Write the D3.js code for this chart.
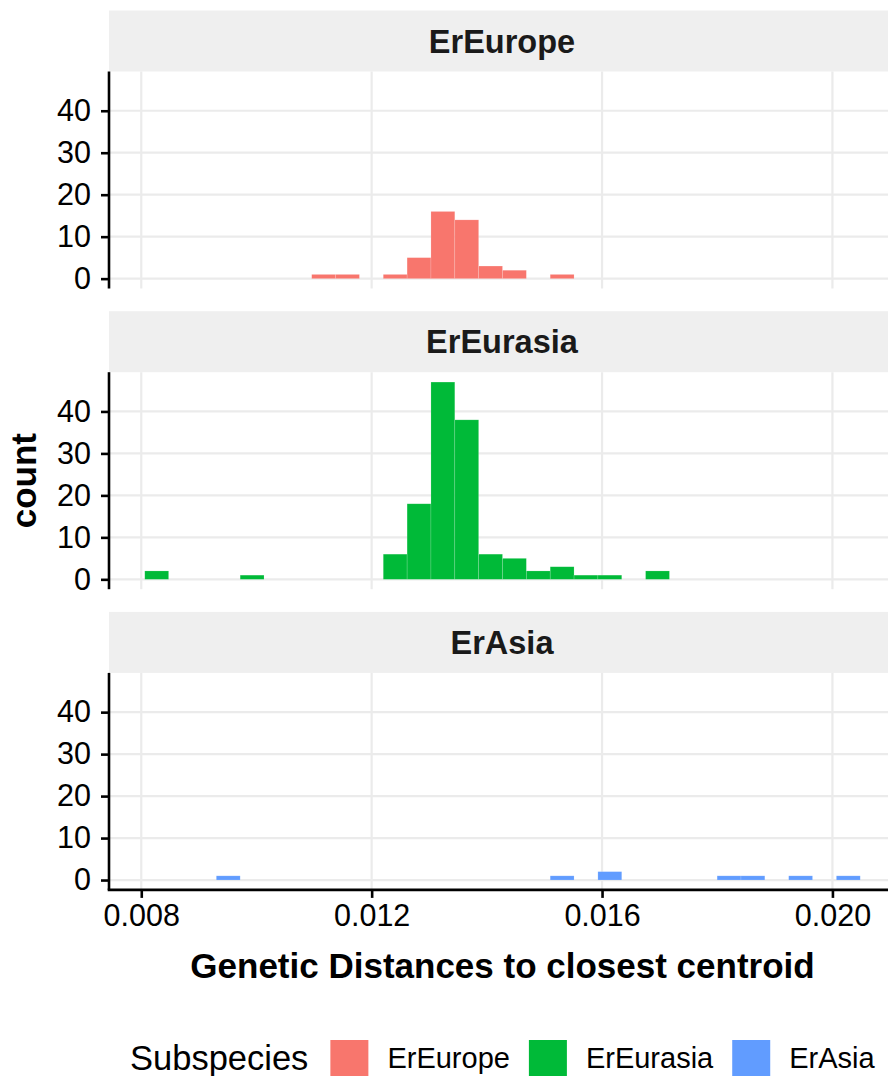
<!DOCTYPE html>
<html lang="en">
<head>
<meta charset="UTF-8">
<title>Genetic distances histogram</title>
<script src="https://d3js.org/d3.v7.min.js"></script>
<style>
  body { margin: 0; background: #fff; }
  svg { display: block; font-family: "Liberation Sans", Arial, sans-serif; }
</style>
</head>
<body>
<svg width="888" height="1076"></svg>
<script>
// histogram data: 30 bins, counts per subspecies
const subspecies = ["ErEurope", "ErEurasia", "ErAsia"];
const colors = ["#F8766D", "#00BA38", "#619CFF"];
const binStart = 0.0080608;
const binWidth = 0.00041406;
const europeCounts  = [0,0,0,0,0,0,0,1,1,0,1,5,16,14,3,2,0,1,0,0,0,0,0,0,0,0,0,0,0,0];
const eurasiaCounts = [2,0,0,0,1,0,0,0,0,0,6,18,47,38,6,5,2,3,1,1,0,2,0,0,0,0,0,0,0,0];
const asiaCounts    = [0,0,0,1,0,0,0,0,0,0,0,0,0,0,0,0,0,1,0,2,0,0,0,0,1,1,0,1,0,1];
const xTicks = [0.008, 0.012, 0.016, 0.020];
const yTicks = [0, 10, 20, 30, 40];

const allCounts = [europeCounts, eurasiaCounts, asiaCounts];

const svg = d3.select("svg");
const panelLeft = 109, panelRight = 896;
const panelTop0 = 71.5, panelStep = 300.7, panelH = 217, stripH = 61;

const nBins = europeCounts.length;
const x = d3.scaleLinear()
    .domain([binStart - 1.5 * binWidth, binStart + (nBins + 1.5) * binWidth])
    .range([panelLeft, panelRight]);

const maxCount = d3.max(allCounts.flat());
const pad = maxCount * 0.05;

subspecies.forEach((name, i) => {
    const top = panelTop0 + i * panelStep;
    const bottom = top + panelH;
    const y = d3.scaleLinear().domain([-pad, maxCount + pad]).range([bottom, top]);
    const g = svg.append("g");

    // strip
    g.append("rect")
        .attr("x", panelLeft).attr("y", top - stripH)
        .attr("width", panelRight - panelLeft).attr("height", stripH)
        .attr("fill", "#efefef");
    g.append("text")
        .attr("x", (panelLeft + panelRight) / 2 - 0.5)
        .attr("y", top - stripH / 2)
        .attr("dy", "0.36em")
        .attr("text-anchor", "middle")
        .attr("font-size", 32.5)
        .attr("font-weight", "bold")
        .attr("fill", "#1a1a1a")
        .text(name);

    // grid
    g.selectAll(".gx").data(xTicks).join("line")
        .attr("x1", d => x(d)).attr("x2", d => x(d))
        .attr("y1", top).attr("y2", bottom)
        .attr("stroke", "#ebebeb").attr("stroke-width", 2.2);
    g.selectAll(".gy").data(yTicks).join("line")
        .attr("x1", panelLeft).attr("x2", panelRight)
        .attr("y1", d => y(d)).attr("y2", d => y(d))
        .attr("stroke", "#ebebeb").attr("stroke-width", 2.2);

    // bars
    const bins = allCounts[i].map((c, k) => ({ k: k, c: c })).filter(d => d.c > 0);
    g.selectAll(".bar").data(bins).join("rect")
        .attr("x", d => x(binStart + d.k * binWidth))
        .attr("width", d => x(binStart + (d.k + 1) * binWidth) - x(binStart + d.k * binWidth))
        .attr("y", d => y(d.c))
        .attr("height", d => y(0) - y(d.c))
        .attr("fill", colors[i])
        .attr("stroke", "#ffffff").attr("stroke-opacity", 0.25).attr("stroke-width", 0.6);

    // y axis
    const yAxis = g.append("g")
        .attr("transform", `translate(${panelLeft},0)`)
        .call(d3.axisLeft(y).tickValues(yTicks).tickSize(8).tickPadding(5).tickSizeOuter(0));
    yAxis.select(".domain").attr("stroke", "#000").attr("stroke-width", 2.6)
        .attr("d", `M0,${top}V${bottom}`);
    yAxis.selectAll(".tick line").attr("stroke", "#000").attr("stroke-width", 2.6);
    yAxis.selectAll(".tick text").attr("font-size", 30.5).attr("fill", "#000")
        .attr("font-family", null).attr("x", -18);

    if (i === subspecies.length - 1) {
        const xAxis = g.append("g")
            .attr("transform", `translate(0,${bottom})`)
            .call(d3.axisBottom(x).tickValues(xTicks).tickFormat(d3.format(".3f"))
                .tickSize(8).tickPadding(6).tickSizeOuter(0));
        xAxis.select(".domain").attr("stroke", "#000").attr("stroke-width", 2.6)
            .attr("d", `M${panelLeft - 1.3},0H${panelRight}`);
        xAxis.selectAll(".tick line").attr("stroke", "#000").attr("stroke-width", 2.6);
        xAxis.selectAll(".tick text").attr("font-size", 30.5).attr("fill", "#000")
            .attr("font-family", null);
    }
});

// axis titles
svg.append("text")
    .attr("x", (panelLeft + panelRight) / 2)
    .attr("y", 978)
    .attr("text-anchor", "middle")
    .attr("font-size", 35)
    .attr("font-weight", "bold")
    .text("Genetic Distances to closest centroid");

svg.append("text")
    .attr("transform", `translate(36,${(panelTop0 + panelTop0 + 2 * panelStep + panelH) / 2}) rotate(-90)`)
    .attr("text-anchor", "middle")
    .attr("font-size", 35)
    .attr("font-weight", "bold")
    .text("count");

// legend
const legend = svg.append("g");
const legY = 1058;
let lx = 130;
const title = legend.append("text")
    .attr("x", lx).attr("y", legY).attr("dy", "0.36em")
    .attr("font-size", 34.5)
    .text("Subspecies");
lx += title.node().getComputedTextLength() + 22;
subspecies.forEach((name, i) => {
    legend.append("rect")
        .attr("x", lx).attr("y", legY - 18)
        .attr("width", 38).attr("height", 38)
        .attr("fill", colors[i]);
    const t = legend.append("text")
        .attr("x", lx + 57).attr("y", legY).attr("dy", "0.36em")
        .attr("font-size", 29)
        .text(name);
    lx += 57 + t.node().getComputedTextLength() + 19;
});
</script>
</body>
</html>
